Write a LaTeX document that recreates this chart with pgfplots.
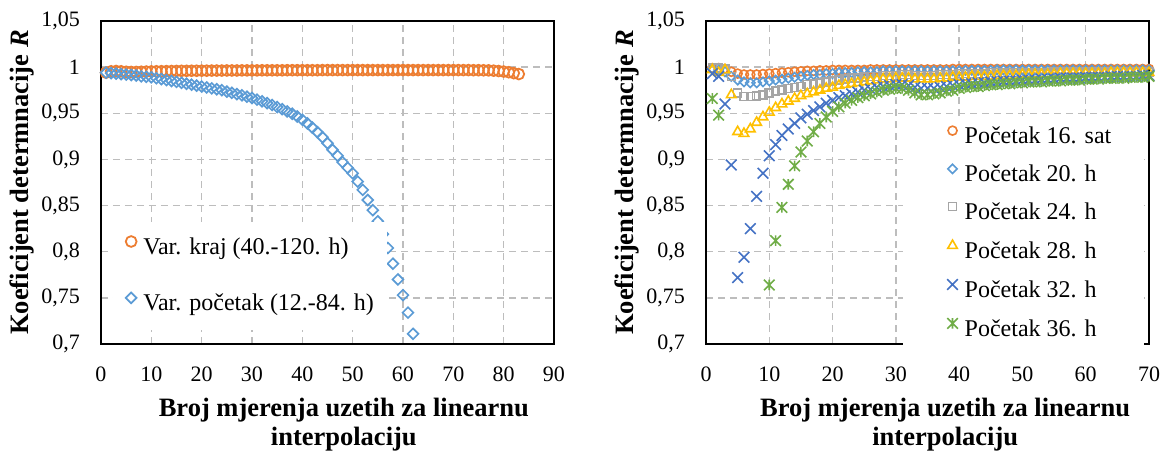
\documentclass[border=0pt]{standalone}
\usepackage{fontspec}
\setmainfont{Liberation Serif}
\usepackage{pgfplots}
\pgfplotsset{compat=1.18}
\usepackage{pgfplotstable}

\definecolor{cOr}{HTML}{ED7D31}
\definecolor{cDi}{HTML}{5B9BD5}
\definecolor{cGr}{HTML}{A5A5A5}
\definecolor{cYe}{HTML}{FFC000}
\definecolor{cCr}{HTML}{4472C4}
\definecolor{cGn}{HTML}{70AD47}

\pgfdeclareplotmark{xcross}{%
  \pgfpathmoveto{\pgfqpoint{-\pgfplotmarksize}{-\pgfplotmarksize}}%
  \pgfpathlineto{\pgfqpoint{\pgfplotmarksize}{\pgfplotmarksize}}%
  \pgfpathmoveto{\pgfqpoint{-\pgfplotmarksize}{\pgfplotmarksize}}%
  \pgfpathlineto{\pgfqpoint{\pgfplotmarksize}{-\pgfplotmarksize}}%
  \pgfusepathqstroke}
\pgfdeclareplotmark{xstar}{%
  \pgfpathmoveto{\pgfqpoint{-\pgfplotmarksize}{-\pgfplotmarksize}}%
  \pgfpathlineto{\pgfqpoint{\pgfplotmarksize}{\pgfplotmarksize}}%
  \pgfpathmoveto{\pgfqpoint{-\pgfplotmarksize}{\pgfplotmarksize}}%
  \pgfpathlineto{\pgfqpoint{\pgfplotmarksize}{-\pgfplotmarksize}}%
  \pgfpathmoveto{\pgfqpoint{0pt}{-\pgfplotmarksize}}%
  \pgfpathlineto{\pgfqpoint{0pt}{\pgfplotmarksize}}%
  \pgfusepathqstroke}

\pgfplotstableread[row sep=\\]{
x y\\
1 0.9940\\ 2 0.9955\\ 3 0.9958\\ 4 0.9955\\ 5 0.9950\\ 6 0.9948\\ 7 0.9948\\ 8 0.9950\\ 9 0.9952\\ 10 0.9954\\
11 0.9955\\ 12 0.9956\\ 13 0.9957\\ 14 0.9958\\ 15 0.9959\\ 16 0.9960\\ 17 0.9960\\ 18 0.9961\\ 19 0.9961\\ 20 0.9962\\
21 0.9962\\ 22 0.9963\\ 23 0.9963\\ 24 0.9963\\ 25 0.9964\\ 26 0.9964\\ 27 0.9964\\ 28 0.9965\\ 29 0.9965\\ 30 0.9965\\
31 0.9965\\ 32 0.9966\\ 33 0.9966\\ 34 0.9966\\ 35 0.9966\\ 36 0.9966\\ 37 0.9967\\ 38 0.9967\\ 39 0.9967\\ 40 0.9967\\
41 0.9967\\ 42 0.9967\\ 43 0.9967\\ 44 0.9968\\ 45 0.9968\\ 46 0.9968\\ 47 0.9968\\ 48 0.9968\\ 49 0.9968\\ 50 0.9968\\
51 0.9968\\ 52 0.9968\\ 53 0.9968\\ 54 0.9968\\ 55 0.9968\\ 56 0.9968\\ 57 0.9968\\ 58 0.9968\\ 59 0.9968\\ 60 0.9968\\
61 0.9968\\ 62 0.9968\\ 63 0.9968\\ 64 0.9968\\ 65 0.9968\\ 66 0.9968\\ 67 0.9968\\ 68 0.9968\\ 69 0.9968\\ 70 0.9968\\
71 0.9968\\ 72 0.9968\\ 73 0.9968\\ 74 0.9967\\ 75 0.9967\\ 76 0.9966\\ 77 0.9965\\ 78 0.9962\\ 79 0.9958\\ 80 0.9952\\
81 0.9945\\ 82 0.9935\\ 83 0.9925\\
}\kraj

\pgfplotstableread[row sep=\\]{
x y\\
1 0.9940\\ 2 0.9935\\ 3 0.9930\\ 4 0.9925\\ 5 0.9920\\ 6 0.9915\\ 7 0.9910\\ 8 0.9900\\ 9 0.9895\\ 10 0.9890\\
11 0.9880\\ 12 0.9870\\ 13 0.9860\\ 14 0.9850\\ 15 0.9840\\ 16 0.9830\\ 17 0.9820\\ 18 0.9810\\ 19 0.9800\\ 20 0.9790\\
21 0.9780\\ 22 0.9770\\ 23 0.9760\\ 24 0.9750\\ 25 0.9735\\ 26 0.9722\\ 27 0.9708\\ 28 0.9695\\ 29 0.9680\\ 30 0.9665\\
31 0.9648\\ 32 0.9630\\ 33 0.9610\\ 34 0.9590\\ 35 0.9568\\ 36 0.9545\\ 37 0.9520\\ 38 0.9495\\ 39 0.9465\\ 40 0.9430\\
41 0.9390\\ 42 0.9345\\ 43 0.9295\\ 44 0.9240\\ 45 0.9175\\ 46 0.9105\\ 47 0.9040\\ 48 0.8970\\ 49 0.8910\\ 50 0.8850\\
51 0.8760\\ 52 0.8670\\ 53 0.8560\\ 54 0.8450\\ 55 0.8330\\ 56 0.8190\\ 57 0.8040\\ 58 0.7870\\ 59 0.7700\\ 60 0.7530\\
61 0.7340\\ 62 0.7110\\
}\pocetak

\pgfplotstableread{
x o d s t c g
1 0.9990 0.9980 0.9990 0.9970 0.9930 0.966
2 0.9990 0.9970 0.9990 0.9940 0.9900 0.948
3 0.9980 0.9950 0.9980 0.9970 0.9600 nan
4 0.9950 0.9900 0.9900 0.9700 0.8940 nan
5 0.9930 0.9860 0.9720 0.9300 0.7720 nan
6 0.9920 0.9840 0.9680 0.9280 0.7940 nan
7 0.9920 0.9830 0.9680 0.9330 0.8250 nan
8 0.9920 0.9830 0.9690 0.9400 0.8600 nan
9 0.9925 0.9840 0.9700 0.9460 0.8850 nan
10 0.9930 0.9850 0.9720 0.9510 0.9040 0.764
11 0.9935 0.9860 0.9740 0.9560 0.9160 0.812
12 0.9940 0.9870 0.9750 0.9600 0.9260 0.848
13 0.9945 0.9880 0.9770 0.9630 0.9330 0.873
14 0.9950 0.9890 0.9780 0.9660 0.9390 0.893
15 0.9955 0.9900 0.9790 0.9690 0.9450 0.908
16 0.9960 0.9910 0.9810 0.9710 0.9490 0.920
17 0.9960 0.9920 0.9820 0.9730 0.9530 0.930
18 0.9965 0.9920 0.9830 0.9750 0.9570 0.939
19 0.9965 0.9930 0.9840 0.9770 0.9610 0.946
20 0.9970 0.9930 0.9850 0.9780 0.9640 0.952
21 0.9970 0.9940 0.9860 0.9800 0.9670 0.957
22 0.9970 0.9940 0.9870 0.9810 0.9690 0.961
23 0.9970 0.9940 0.9880 0.9820 0.9710 0.964
24 0.9970 0.9950 0.9880 0.9830 0.9730 0.967
25 0.9970 0.9950 0.9890 0.9840 0.9750 0.969
26 0.9975 0.9950 0.9900 0.9850 0.9760 0.971
27 0.9975 0.9950 0.9900 0.9860 0.9780 0.973
28 0.9975 0.9960 0.9910 0.9870 0.9790 0.975
29 0.9975 0.9960 0.9910 0.9870 0.9800 0.976
30 0.9975 0.9960 0.9910 0.9880 0.9810 0.977
31 0.9975 0.9960 0.9920 0.9880 0.9810 0.977
32 0.9975 0.9960 0.9920 0.9880 0.9800 0.975
33 0.9975 0.9960 0.9910 0.9870 0.9780 0.972
34 0.9975 0.9960 0.9910 0.9870 0.9770 0.970
35 0.9975 0.9960 0.9910 0.9870 0.9770 0.970
36 0.9975 0.9960 0.9910 0.9870 0.9770 0.971
37 0.9975 0.9960 0.9920 0.9880 0.9780 0.972
38 0.9975 0.9960 0.9920 0.9880 0.9790 0.974
39 0.9980 0.9960 0.9920 0.9890 0.9800 0.975
40 0.9980 0.9960 0.9930 0.9890 0.9810 0.977
41 0.9980 0.9965 0.9930 0.9890 0.9820 0.978
42 0.9980 0.9965 0.9930 0.9900 0.9820 0.979
43 0.9980 0.9965 0.9930 0.9900 0.9830 0.979
44 0.9980 0.9965 0.9930 0.9900 0.9830 0.980
45 0.9980 0.9965 0.9940 0.9900 0.9840 0.981
46 0.9980 0.9970 0.9940 0.9910 0.9840 0.981
47 0.9980 0.9970 0.9940 0.9910 0.9850 0.982
48 0.9980 0.9970 0.9940 0.9910 0.9850 0.982
49 0.9980 0.9970 0.9940 0.9910 0.9850 0.983
50 0.9980 0.9970 0.9940 0.9920 0.9860 0.983
51 0.9980 0.9970 0.9940 0.9920 0.9860 0.984
52 0.9980 0.9970 0.9940 0.9920 0.9860 0.984
53 0.9980 0.9970 0.9940 0.9920 0.9870 0.984
54 0.9980 0.9970 0.9940 0.9920 0.9870 0.985
55 0.9980 0.9970 0.9950 0.9920 0.9870 0.985
56 0.9980 0.9970 0.9950 0.9930 0.9880 0.985
57 0.9980 0.9970 0.9950 0.9930 0.9880 0.986
58 0.9980 0.9970 0.9950 0.9930 0.9880 0.986
59 0.9980 0.9970 0.9950 0.9930 0.9880 0.986
60 0.9980 0.9970 0.9950 0.9930 0.9890 0.987
61 0.9980 0.9970 0.9950 0.9930 0.9890 0.987
62 0.9980 0.9970 0.9950 0.9930 0.9890 0.987
63 0.9980 0.9970 0.9950 0.9930 0.9890 0.988
64 0.9980 0.9970 0.9950 0.9940 0.9900 0.988
65 0.9980 0.9970 0.9950 0.9940 0.9900 0.988
66 0.9980 0.9970 0.9950 0.9940 0.9900 0.988
67 0.9980 0.9970 0.9950 0.9940 0.9900 0.989
68 0.9980 0.9970 0.9950 0.9940 0.9900 0.989
69 0.9980 0.9970 0.9950 0.9940 0.9910 0.989
70 0.9980 0.9970 0.9950 0.9940 0.9910 0.990
}\rightdata

\pgfplotsset{
  mystyle/.style={
    scale only axis, height=323pt, ymin=0.7, ymax=1.05,
    ytick={0.7,0.75,0.8,0.85,0.9,0.95,1,1.05},
    yticklabels={{0,7},{0,75},{0,8},{0,85},{0,9},{0,95},{1},{1,05}},
    grid=major,
    major grid style={draw=black!26, dash pattern=on 7pt off 5pt, line width=1.4pt},
    axis line style={line width=1.8pt, black},
    major tick length=0pt,
    tick label style={font=\fontsize{22}{26}\selectfont},
    /pgf/number format/assume math mode=true,
    xticklabel style={inner sep=0pt, anchor=north, yshift=-23pt},
    yticklabel style={inner sep=0pt, anchor=east, xshift=-21pt},
    label style={font=\bfseries\fontsize{26.5}{29.5}\selectfont},
    xlabel={Broj mjerenja uzetih za linearnu\\interpolaciju},
    xlabel style={align=center, anchor=north, inner sep=0pt},
    ylabel={Koeficijent determnacije \textit{R}},
    ylabel style={anchor=center, inner sep=0pt},
    legend cell align=left,
    legend style={draw=none, fill=white, inner xsep=0pt,
      font=\fontsize{24}{28}\selectfont, column sep=6pt,
      nodes={inner sep=0pt, text height=17pt, text depth=5pt}},
  }
}

\begin{document}
\begin{tikzpicture}
\useasboundingbox (0,0) rectangle (1173pt,450pt);

\begin{axis}[mystyle,
  at={(101pt,106pt)}, anchor=south west, width=453pt,
  xmin=0, xmax=90, xtick={0,10,...,90},
  xlabel style={at={(axis description cs:0.536,-0.166)}},
  ylabel style={at={(axis description cs:-0.1744,0.5)}},
  legend style={at={(axis description cs:0.026,0.378)}, anchor=north west,
    inner ysep=14pt, row sep=33pt},
  legend image code/.code={\path (0pt,0pt) (24pt,0pt); \draw[#1] plot coordinates {(18pt,7pt)};},
]
\addplot[only marks, color=cOr, mark=o, mark size=5.4pt, mark options={line width=1.8pt}] table[x=x,y=y] {\kraj};
\addlegendentry{\makebox[244pt][l]{Var. kraj (40.-120. h)}}
\addplot[only marks, color=cDi, mark=square, mark size=3.8pt, mark options={rotate=45, line width=1.7pt}] table[x=x,y=y] {\pocetak};
\addlegendentry{\makebox[244pt][l]{Var. početak (12.-84. h)}}
\end{axis}

\begin{axis}[mystyle,
  at={(706pt,106pt)}, anchor=south west, width=443pt,
  xmin=0, xmax=70, xtick={0,10,...,70},
  xlabel style={at={(axis description cs:0.540,-0.166)}},
  ylabel style={at={(axis description cs:-0.1783,0.5)}},
  legend style={at={(axis description cs:0.445,0.703)}, anchor=north west,
    inner ysep=9pt, row sep=15.6pt},
  legend image code/.code={\path (0pt,0pt) (55pt,0pt); \draw[#1] plot coordinates {(49pt,7pt)};},
]
\addplot[only marks, color=cOr, mark=o, mark size=4.5pt, mark options={line width=1.6pt}] table[x=x,y=o] {\rightdata};
\addlegendentry{\makebox[179pt][l]{Početak 16. sat}}
\addplot[only marks, color=cDi, mark=square, mark size=3.3pt, mark options={rotate=45, line width=1.6pt}] table[x=x,y=d] {\rightdata};
\addlegendentry{\makebox[179pt][l]{Početak 20. h}}
\addplot[only marks, color=cGr, mark=square, mark size=4pt, mark options={line width=1.6pt}] table[x=x,y=s] {\rightdata};
\addlegendentry{\makebox[179pt][l]{Početak 24. h}}
\addplot[only marks, color=cYe, mark=triangle, mark size=5.5pt, mark options={line width=1.6pt}] table[x=x,y=t] {\rightdata};
\addlegendentry{\makebox[179pt][l]{Početak 28. h}}
\addplot[only marks, color=cCr, mark=xcross, mark size=5.3pt, mark options={line width=1.6pt}] table[x=x,y=c] {\rightdata};
\addlegendentry{\makebox[179pt][l]{Početak 32. h}}
\addplot[only marks, color=cGn, mark=xstar, mark size=5.3pt, mark options={line width=1.6pt}] table[x=x,y=g] {\rightdata};
\addlegendentry{\makebox[179pt][l]{Početak 36. h}}
\end{axis}
\end{tikzpicture}
\end{document}
